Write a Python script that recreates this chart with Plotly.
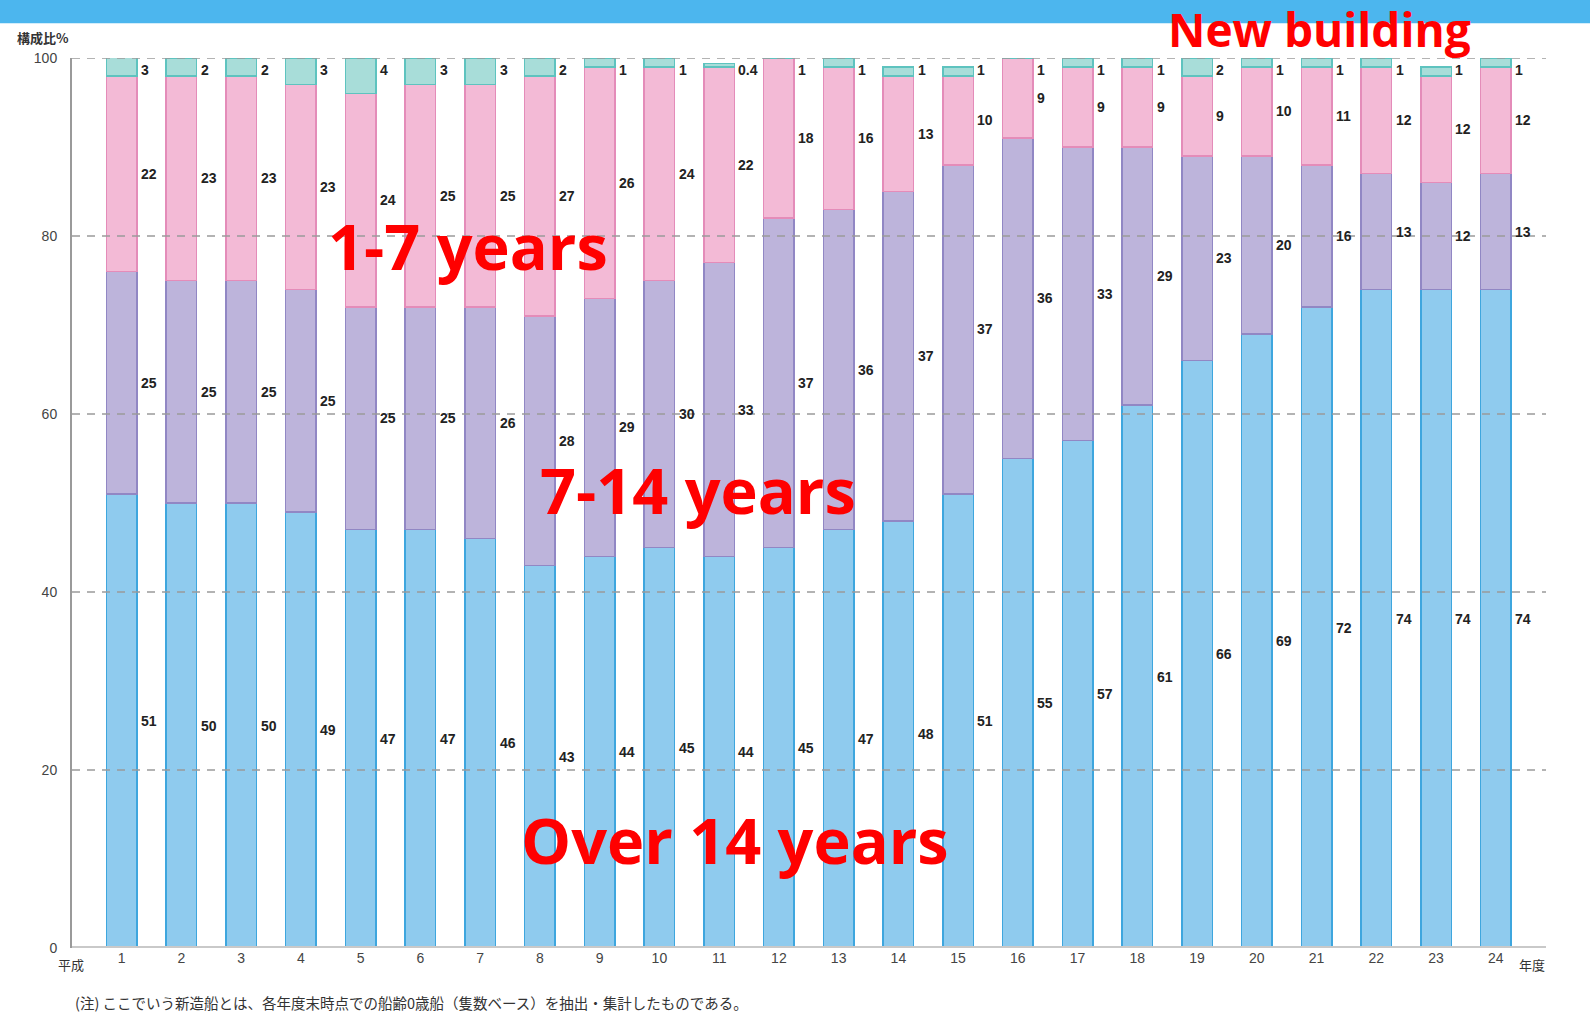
import plotly.graph_objects as go

years = list(range(1, 25))
over14 = [51, 50, 50, 49, 47, 47, 46, 43, 44, 45, 44, 45, 47, 48, 51, 55, 57, 61, 66, 69, 72, 74, 74, 74]
y7_14 = [25, 25, 25, 25, 25, 25, 26, 28, 29, 30, 33, 37, 36, 37, 37, 36, 33, 29, 23, 20, 16, 13, 12, 13]
y1_7 = [22, 23, 23, 23, 24, 25, 25, 27, 26, 24, 22, 18, 16, 13, 10, 9, 9, 9, 9, 10, 11, 12, 12, 12]
new_bld = [3, 2, 2, 3, 4, 3, 3, 2, 1, 1, 0.4, 1, 1, 1, 1, 1, 1, 1, 2, 1, 1, 1, 1, 1]
new_txt = ["3", "2", "2", "3", "4", "3", "3", "2", "1", "1", "0.4", "1", "1", "1", "1", "1", "1", "1", "2", "1", "1", "1", "1", "1"]
yticks = [0, 20, 40, 60, 80, 100]

series = [
    ("Over 14 years", over14, "#8fcbee", "#3ea6de"),
    ("7-14 years", y7_14, "#bdb4db", "#9187c4"),
    ("1-7 years", y1_7, "#f3bad6", "#e48cb9"),
    ("New building", new_bld, "#a8ddd9", "#5ec3bf"),
]

fig = go.Figure()
for name, vals, fill, edge in series:
    fig.add_trace(go.Bar(
        x=years, y=vals, name=name, width=0.51,
        marker=dict(color=fill, line=dict(color=edge, width=1.5)),
        hoverinfo="skip",
    ))

annotations = []
lab_font = dict(family="Liberation Sans", size=14, color="#222222")
# segment labels (right of each bar, at segment middle)
for i, yr in enumerate(years):
    base = 0
    for vals in (over14, y7_14, y1_7):
        mid = base + vals[i] / 2
        base += vals[i]
        annotations.append(dict(x=yr + 0.29, y=mid, xref="x", yref="y", text=f"<b>{vals[i]}</b>",
                                showarrow=False, xanchor="left", yanchor="middle", font=lab_font))
    annotations.append(dict(x=yr + 0.29, y=100, xref="x", yref="y", text=f"<b>{new_txt[i]}</b>",
                            showarrow=False, xanchor="left", yanchor="top", yshift=-2, font=lab_font))

# axis texts
cjk = "Noto Sans CJK JP"
annotations += [
    dict(x=-0.0387, y=1.023, xref="paper", yref="paper", text="<b>構成比%</b>", showarrow=False,
         xanchor="left", yanchor="middle", font=dict(family=cjk, size=13, color="#333")),
    dict(x=-0.0007, y=-0.019, xref="paper", yref="paper", text="平成", showarrow=False,
         xanchor="center", yanchor="middle", font=dict(family=cjk, size=13, color="#333")),
    dict(x=0.9905, y=-0.019, xref="paper", yref="paper", text="年度", showarrow=False,
         xanchor="center", yanchor="middle", font=dict(family=cjk, size=13, color="#333")),
    dict(x=0.0005, y=-0.0607, xref="paper", yref="paper",
         text="(注) ここでいう新造船とは、各年度末時点での船齢0歳船（隻数ベース）を抽出・集計したものである。",
         showarrow=False, xanchor="left", yanchor="middle",
         font=dict(family=cjk, size=14.5, color="#333")),
]

# big red labels
red = "#ff0000"
big = dict(family="Open Sans", size=63, color=red, weight="bold")
annotations += [
    dict(x=6.79, y=78.9, xref="x", yref="y", text="1-7 years", showarrow=False, font=big),
    dict(x=10.64, y=51.5, xref="x", yref="y", text="7-14 years", showarrow=False, font=big),
    dict(x=11.27, y=12.2, xref="x", yref="y", text="Over 14 years", showarrow=False, font=big),
    dict(x=0.846, y=1.033, xref="paper", yref="paper", text="New building", showarrow=False,
         xanchor="center", yanchor="middle",
         font=dict(family="Open Sans", size=46, color=red, weight="bold")),
]

shapes = [
    # top banner
    dict(type="rect", xref="paper", yref="paper", x0=-0.06, x1=1.05, y0=1.039, y1=1.08,
         fillcolor="#4cb6ee", line=dict(width=0), layer="below"),
    # baseline
    dict(type="line", xref="paper", yref="y", x0=0, x1=1, y0=0, y1=0,
         line=dict(color="#c9c9c9", width=4), layer="above"),
]
for v in yticks[1:]:
    shapes.append(dict(type="line", xref="paper", yref="y", x0=0, x1=1, y0=v, y1=v,
                       line=dict(color="#9a9a9a", width=1.5, dash="8px,7px"), layer="above"))

fig.update_layout(
    width=1590, height=1014,
    margin=dict(l=72, r=44, t=58, b=66),
    barmode="stack",
    showlegend=False,
    plot_bgcolor="white",
    paper_bgcolor="white",
    annotations=annotations,
    shapes=shapes,
    xaxis=dict(range=[0.168, 24.84], tickvals=years, ticktext=[str(y) for y in years],
               showgrid=False, zeroline=False, showline=False, ticks="",
               tickfont=dict(family="Liberation Sans", size=14, color="#444")),
    yaxis=dict(range=[0, 100], tickvals=yticks, showgrid=False, zeroline=False,
               showline=True, linecolor="#9a9a9a", linewidth=2, ticks="", ticklabelstandoff=10,
               tickfont=dict(family="Liberation Sans", size=14, color="#444")),
)

fig.write_html("out.html")
